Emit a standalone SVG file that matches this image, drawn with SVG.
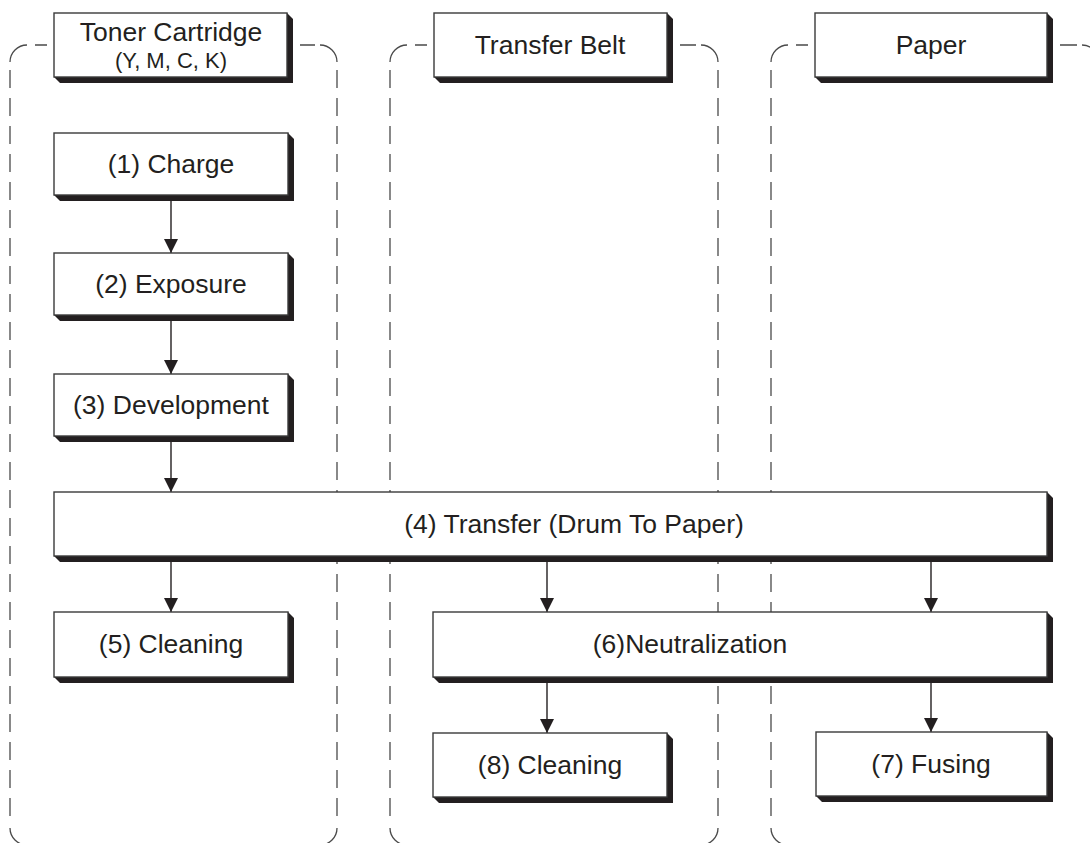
<svg xmlns="http://www.w3.org/2000/svg" width="1090" height="843" viewBox="0 0 1090 843">
<style>
.lane{fill:none;stroke:#4a4a4a;stroke-width:1.3}
.dash{stroke-dasharray:18 10}
.box{fill:#fff;stroke:#3a3a3a;stroke-width:1.4}
.sh{fill:#231f20}
.t{font-family:"Liberation Sans",Arial,sans-serif;font-size:26.5px;fill:#231f20;text-anchor:middle}
.ts{font-size:22px}
.c{stroke:#231f20;stroke-width:1.4;fill:none;marker-end:url(#ah)}
</style>
<defs>
<marker id="ah" markerUnits="userSpaceOnUse" markerWidth="14" markerHeight="14" viewBox="0 0 14 14" refX="14" refY="7" orient="auto">
<path d="M0,0 L14,7 L0,14 z" fill="#231f20"/>
</marker>
</defs>
<rect width="1090" height="843" fill="#fff"/>
<g id="lanes">
<g id="lane1">
<path class="lane" d="M10 62 A17 17 0 0 1 27 45 M35 45 H47 M300 45 H315 M320 45 A17 17 0 0 1 337 62 M10 828 A17 17 0 0 0 27 845 M337 828 A17 17 0 0 1 320 845"/>
<path class="lane dash" d="M10 70 V826 M337 70 V826"/>
</g>
<g id="lane2">
<path class="lane" d="M390 62 A17 17 0 0 1 407 45 M415 45 H427 M680 45 H696 M701 45 A17 17 0 0 1 718 62 M390 828 A17 17 0 0 0 407 845 M718 828 A17 17 0 0 1 701 845"/>
<path class="lane dash" d="M390 70 V826 M718 70 V826"/>
</g>
<g id="lane3">
<path class="lane" d="M771 62 A17 17 0 0 1 788 45 M796 45 H808 M1060 45 H1077 M1082 45 A17 17 0 0 1 1099 62 M771 828 A17 17 0 0 0 788 845"/>
<path class="lane dash" d="M771 70 V826"/>
</g>
</g>
<g id="connectors">
<line class="c" x1="171" y1="201" x2="171" y2="253"/>
<line class="c" x1="171" y1="321" x2="171" y2="374"/>
<line class="c" x1="171" y1="442" x2="171" y2="492"/>
<line class="c" x1="171" y1="562" x2="171" y2="612"/>
<line class="c" x1="547" y1="562" x2="547" y2="612"/>
<line class="c" x1="931" y1="562" x2="931" y2="612"/>
<line class="c" x1="547" y1="683" x2="547" y2="733"/>
<line class="c" x1="931" y1="683" x2="931" y2="732"/>
</g>
<g id="toner">
<path class="sh" d="M287 13 L293 19 V83 H60 L54 77 Z"/>
<rect class="box" x="54" y="13" width="233" height="64"/>
<text class="t" x="171" y="41">Toner Cartridge</text>
<text class="t ts" x="171" y="68">(Y, M, C, K)</text>
</g>
<g id="belt">
<path class="sh" d="M667 13 L673 19 V83 H440 L434 77 Z"/>
<rect class="box" x="434" y="13" width="233" height="64"/>
<text class="t" x="550" y="54">Transfer Belt</text>
</g>
<g id="paper">
<path class="sh" d="M1047 13 L1053 19 V83 H821 L815 77 Z"/>
<rect class="box" x="815" y="13" width="232" height="64"/>
<text class="t" x="931" y="54">Paper</text>
</g>
<g id="charge">
<path class="sh" d="M288 133 L294 139 V201 H60 L54 195 Z"/>
<rect class="box" x="54" y="133" width="234" height="62"/>
<text class="t" x="171" y="173">(1) Charge</text>
</g>
<g id="exposure">
<path class="sh" d="M288 253 L294 259 V321 H60 L54 315 Z"/>
<rect class="box" x="54" y="253" width="234" height="62"/>
<text class="t" x="171" y="293">(2) Exposure</text>
</g>
<g id="development">
<path class="sh" d="M288 374 L294 380 V442 H60 L54 436 Z"/>
<rect class="box" x="54" y="374" width="234" height="62"/>
<text class="t" x="171" y="414">(3) Development</text>
</g>
<g id="transfer">
<path class="sh" d="M1047 492 L1053 498 V562 H60 L54 556 Z"/>
<rect class="box" x="54" y="492" width="993" height="64"/>
<text class="t" x="574" y="533">(4) Transfer (Drum To Paper)</text>
</g>
<g id="cleaning5">
<path class="sh" d="M288 612 L294 618 V683 H60 L54 677 Z"/>
<rect class="box" x="54" y="612" width="234" height="65"/>
<text class="t" x="171" y="653">(5) Cleaning</text>
</g>
<g id="neutralization">
<path class="sh" d="M1047 612 L1053 618 V683 H439 L433 677 Z"/>
<rect class="box" x="433" y="612" width="614" height="65"/>
<text class="t" x="690" y="653">(6)Neutralization</text>
</g>
<g id="cleaning8">
<path class="sh" d="M667 733 L673 739 V803 H439 L433 797 Z"/>
<rect class="box" x="433" y="733" width="234" height="64"/>
<text class="t" x="550" y="774">(8) Cleaning</text>
</g>
<g id="fusing">
<path class="sh" d="M1047 732 L1053 738 V802 H822 L816 796 Z"/>
<rect class="box" x="816" y="732" width="231" height="64"/>
<text class="t" x="931" y="773">(7) Fusing</text>
</g>
</svg>
